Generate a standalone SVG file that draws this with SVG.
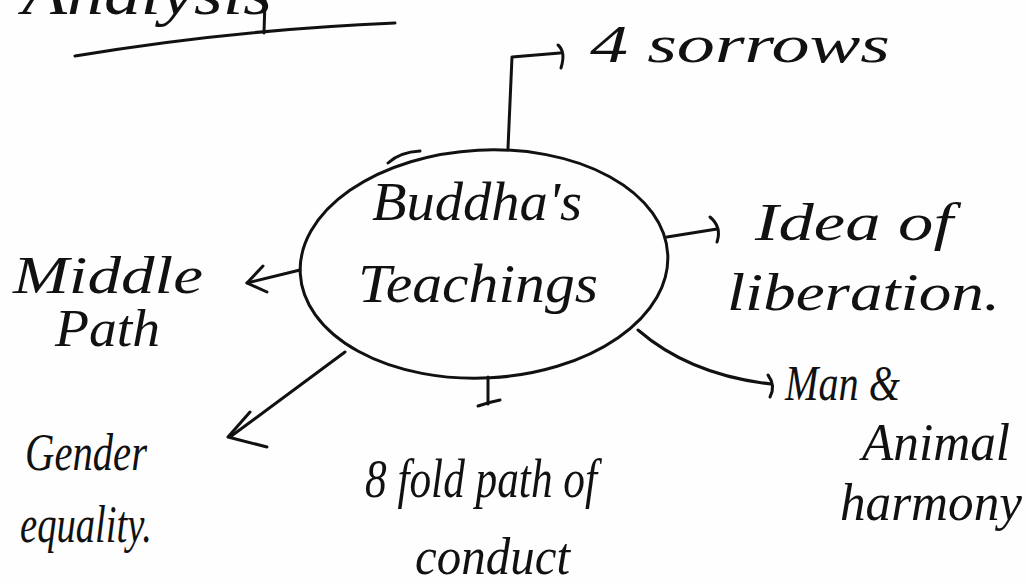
<svg xmlns="http://www.w3.org/2000/svg" width="1027" height="585" viewBox="0 0 1027 585">
<style>
.ln{fill:none;stroke:#111;stroke-width:3;stroke-linecap:round;stroke-linejoin:round}
.t{font-family:"Liberation Serif","DejaVu Serif",serif;font-style:italic;fill:#111}
</style>
<rect width="1027" height="585" fill="#fefefe"/>
<g id="title">
<text class="t" x="22" y="14" font-size="62" textLength="250" lengthAdjust="spacingAndGlyphs">Analysis</text>
<path class="ln" d="M75 56 Q230 30 395 23"/>
<path class="ln" d="M265 0 L264 33"/>
</g>
<g id="center">
<ellipse class="ln" cx="484" cy="264" rx="184" ry="114" transform="rotate(-3 484 264)"/>
<path class="ln" d="M388 163 Q400 152 420 151"/>
<text class="t" x="372" y="220" font-size="54" textLength="210" lengthAdjust="spacingAndGlyphs">Buddha's</text>
<text class="t" x="358" y="302" font-size="54" textLength="240" lengthAdjust="spacingAndGlyphs">Teachings</text>
</g>
<g id="sorrows">
<text class="t" x="590" y="62" font-size="52" textLength="300" lengthAdjust="spacingAndGlyphs">4 sorrows</text>
</g>
<g id="idea">
<text class="t" x="755" y="240" font-size="52" textLength="198" lengthAdjust="spacingAndGlyphs">Idea of</text>
<text class="t" x="727" y="310" font-size="52" textLength="273" lengthAdjust="spacingAndGlyphs">liberation.</text>
</g>
<g id="middle">
<text class="t" x="13" y="293" font-size="52" textLength="190" lengthAdjust="spacingAndGlyphs">Middle</text>
<text class="t" x="55" y="346" font-size="52" textLength="105" lengthAdjust="spacingAndGlyphs">Path</text>
</g>
<g id="man">
<text class="t" x="785" y="400" font-size="50" textLength="115" lengthAdjust="spacingAndGlyphs">Man &amp;</text>
<text class="t" x="862" y="460" font-size="52" textLength="148" lengthAdjust="spacingAndGlyphs">Animal</text>
<text class="t" x="840" y="520" font-size="52" textLength="182" lengthAdjust="spacingAndGlyphs">harmony</text>
</g>
<g id="eightfold">
<text class="t" x="365" y="497" font-size="54" textLength="232" lengthAdjust="spacingAndGlyphs">8 fold path of</text>
<text class="t" x="415" y="574" font-size="52" textLength="155" lengthAdjust="spacingAndGlyphs">conduct</text>
</g>
<g id="gender">
<text class="t" x="25" y="470" font-size="52" textLength="122" lengthAdjust="spacingAndGlyphs">Gender</text>
<text class="t" x="20" y="542" font-size="52" textLength="132" lengthAdjust="spacingAndGlyphs">equality.</text>
</g>
<g id="connectors">
<path class="ln" d="M508 148 L512 57 L560 53"/>
<path class="ln" d="M558 45 Q566 52 561 68"/>
<path class="ln" d="M667 237 L717 229"/>
<path class="ln" d="M710 217 Q722 227 717 242"/>
<path class="ln" d="M300 270 L247 283"/>
<path class="ln" d="M263 266 L247 283 L267 292"/>
<path class="ln" d="M638 330 Q690 375 771 384"/>
<path class="ln" d="M768 375 Q776 386 770 397"/>
<path class="ln" d="M488 377 L488 404"/>
<path class="ln" d="M478 406 Q490 402 500 400"/>
<path class="ln" d="M345 352 L230 437"/>
<path class="ln" d="M250 412 L228 437 L267 447"/>
</g>
</svg>
